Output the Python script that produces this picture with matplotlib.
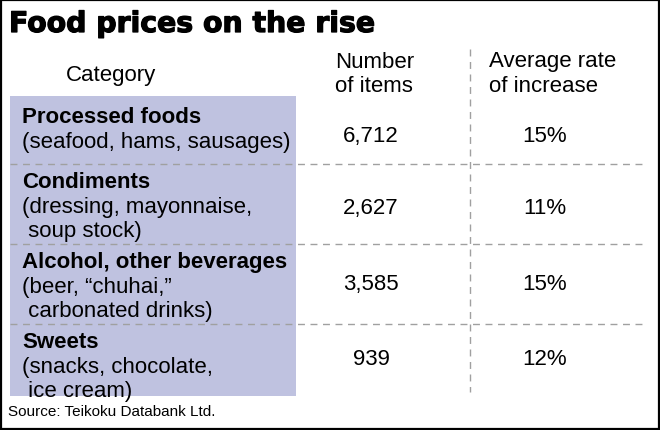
import matplotlib
matplotlib.use("Agg")
import matplotlib.pyplot as plt
from matplotlib.patches import Rectangle
import matplotlib.patheffects as pe

# ── Data ──────────────────────────────────────────────────────────────────────
categories = ["Processed foods", "Condiments", "Alcohol, other beverages", "Sweets"]
examples = [
    ["(seafood, hams, sausages)"],
    ["(dressing, mayonnaise,", " soup stock)"],
    ["(beer, \u201cchuhai,\u201d", " carbonated drinks)"],
    ["(snacks, chocolate,", " ice cream)"],
]
n_items = [6712, 2627, 3585, 939]
avg_rate = [15, 11, 15, 12]

# ── Layout (pixel coords, y down) ────────────────────────────────────────────
W, H = 660, 431
row_top = [97, 165, 245, 325]
row_bot = [165, 245, 325, 397]
num_y = [137, 209, 285, 360]
box_x0, box_x1 = 10, 296
col_num_x, col_rate_x = 371, 545
vline_x = 470
FONT = "Liberation Sans"
FS = 16
BOX_COLOR = "#bfc2e0"
DASH = "#a0a0a0"

fig = plt.figure(figsize=(W / 100, H / 100), dpi=100)
ax = fig.add_axes([0, 0, 1, 1])
ax.set_xlim(0, W)
ax.set_ylim(H, 0)
ax.axis("off")

# outer frame
ax.add_patch(Rectangle((1, 1), W - 2, H - 2, fill=False, ec="black", lw=1.6))

# title
ax.text(9, 33, "Food prices on the rise", fontsize=20.4, fontweight="bold",
        family="DejaVu Sans", va="baseline", ha="left",
        path_effects=[pe.withStroke(linewidth=0.9, foreground="black")])

# header
ax.text(66, 76, "Category", fontsize=FS, family=FONT, va="center")
ax.text(335, 62, "Number", fontsize=FS, family=FONT, va="center")
ax.text(335, 87, "of items", fontsize=FS, family=FONT, va="center")
ax.text(489, 62, "Average rate", fontsize=FS, family=FONT, va="center")
ax.text(489, 87, "of increase", fontsize=FS, family=FONT, va="center")

# shaded category column
ax.add_patch(Rectangle((box_x0, row_top[0]), box_x1 - box_x0,
                       row_bot[-1] - row_top[0], fc=BOX_COLOR, ec="none"))

# dashed dividers
for yb in row_bot[:-1]:
    ax.plot([box_x0, 647], [yb, yb], color=DASH, lw=1.0, ls=(0, (5, 4)))
ax.plot([vline_x, vline_x], [50, 393], color=DASH, lw=1.0, ls=(0, (5, 4)))

# rows
for i, cat in enumerate(categories):
    y0 = row_top[i] + (21 if i == 0 else 18)
    ax.text(22, y0, cat, fontsize=FS, fontweight="bold", family=FONT, va="center")
    for j, line in enumerate(examples[i]):
        ax.text(22, y0 + 25 + 23.5 * j, line, fontsize=FS, family=FONT, va="center")
    ax.text(col_num_x, num_y[i], f"{n_items[i]:,}", fontsize=FS, family=FONT,
            ha="center", va="center")
    ax.text(col_rate_x, num_y[i], f"{avg_rate[i]}%", fontsize=FS, family=FONT,
            ha="center", va="center")

ax.text(8, 412, "Source: Teikoku Databank Ltd.", fontsize=11, family=FONT, va="center")

fig.savefig("out.png", dpi=100)
